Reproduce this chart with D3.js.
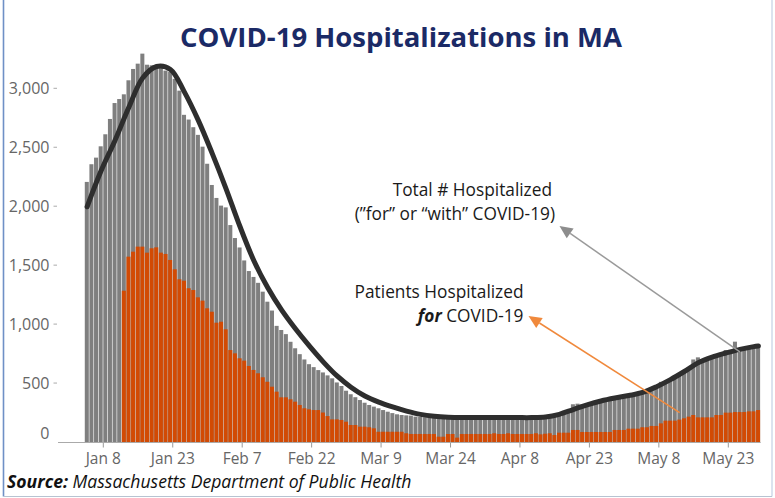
<!DOCTYPE html>
<html><head><meta charset="utf-8">
<script src="https://cdn.jsdelivr.net/npm/d3@7"></script>
<style>
html,body{margin:0;padding:0;background:#fff;}
svg{display:block;}
text{font-family:"Open Sans",sans-serif;}
</style></head><body>
<svg id="chart" width="775" height="498"></svg>
<script>
// ---------------- DATA ----------------
const titleText = "COVID-19 Hospitalizations in MA";
const sourceBold = "Source:";
const sourceRest = " Massachusetts Department of Public Health";
const totalLabel = ["Total # Hospitalized", "(\u201Dfor\u201D or \u201Cwith\u201D COVID-19)"];
const forLabelTop = "Patients Hospitalized";
const forLabelEm = "for";
const forLabelRest = " COVID-19";

const totalStart = "2022-01-04";
const totalHospitalized = [2206,2356,2412,2508,2610,2740,2875,2909,2949,3068,3164,3209,3294,
 3200,3195,3190,3175,3150,3140,3080,2980,
 2775,2735,2670,2605,2505,2360,2180,2070,2005,1990,1840,1730,
 1650,1540,1450,1400,1350,1275,1190,1115,985,950,915,850,795,745,700,660,635,610,590,565,
 540,505,475,435,405,380,356,333,314,300,286,271,257,245,235,229,226,224,
 215,212,210,208,205,200,203,206,200,198,205,208,204,200,206,210,205,200,206,210,208,204,208,212,210,205,212,218,222,225,
 230,240,250,270,320,325,318,322,330,338,352,360,355,365,372,378,385,392,405,435,432,440,470,510,505,
 530,535,570,610,620,700,718,700,712,725,730,745,780,782,851,790,795,800,805,810];

const forStart = "2022-01-12";
const forCovid = [1283,1572,1614,1657,1657,1606,1643,1651,1606,1595,1544,1465,1380,1368,1304,1289,1227,1199,1134,1105,
 1012,1020,956,780,752,710,690,645,611,583,549,511,469,427,379,379,362,342,314,286,277,271,271,250,220,
 192,192,187,172,144,144,130,130,125,116,87,87,87,87,87,87,74,
 68,68,68,68,68,68,45,45,68,68,37,68,68,68,68,68,68,68,74,68,68,74,68,68,68,68,68,74,
 65,70,74,59,79,79,79,102,102,85,85,85,85,85,85,85,102,102,102,113,113,113,125,125,136,136,158,
 181,181,181,190,201,215,229,209,209,209,209,229,229,249,249,254,254,254,260,260,271];

const trendDates = ["2022-01-04","2022-01-07","2022-01-10","2022-01-13","2022-01-16","2022-01-19","2022-01-22","2022-01-25",
 "2022-01-28","2022-01-31","2022-02-03","2022-02-06","2022-02-09","2022-02-12","2022-02-15","2022-02-18","2022-02-21",
 "2022-02-24","2022-02-27","2022-03-02","2022-03-05","2022-03-08","2022-03-11","2022-03-14","2022-03-17","2022-03-20",
 "2022-03-23","2022-03-26","2022-03-29","2022-04-01","2022-04-04","2022-04-07","2022-04-10","2022-04-13","2022-04-16",
 "2022-04-19","2022-04-22","2022-04-25","2022-04-28","2022-05-01","2022-05-04","2022-05-07","2022-05-10","2022-05-13",
 "2022-05-16","2022-05-19","2022-05-22","2022-05-25","2022-05-28","2022-05-29"];
const trendValues = [1995,2298,2556,2837,3088,3185,3160,2970,2730,2450,2150,1830,1540,1310,1120,960,815,
 680,560,465,390,338,297,262,234,218,210,207,207,207,207,207,207,212,235,
 275,315,348,373,394,420,469,529,598,672,720,755,786,809,815];

const xTickDates = ["2022-01-08","2022-01-23","2022-02-07","2022-02-22","2022-03-09","2022-03-24","2022-04-08","2022-04-23","2022-05-08","2022-05-23"];
const xTickLabels = ["Jan 8","Jan 23","Feb 7","Feb 22","Mar 9","Mar 24","Apr 8","Apr 23","May 8","May 23"];
const yTicks = [0,500,1000,1500,2000,2500,3000];
const yTickLabels = ["0","500","1,000","1,500","2,000","2,500","3,000"];

// ---------------- CHART ----------------
const parse = d3.utcParse("%Y-%m-%d");
const svg = d3.select("#chart");

const x = d3.scaleUtc()
  .domain([parse("2022-01-08"), parse("2022-05-23")])
  .range([103.3, 728.3]);
const y = d3.scaleLinear().domain([0, 3000]).range([442, 88.3]);

const day = d => d3.utcDay.offset(d, 1);
const totalData = totalHospitalized.map((v, i) => ({d: d3.utcDay.offset(parse(totalStart), i), v}));
const forData = forCovid.map((v, i) => ({d: d3.utcDay.offset(parse(forStart), i), v}));
const trendData = trendDates.map((s, i) => ({d: parse(s), v: trendValues[i]}));

// frame
svg.append("line").attr("x1", 3.5).attr("x2", 3.5).attr("y1", 0).attr("y2", 496.5)
  .attr("stroke", "#6f90c6").attr("stroke-width", 1.6);
svg.append("line").attr("x1", 772).attr("x2", 772).attr("y1", 0).attr("y2", 496.5)
  .attr("stroke", "#c3d1e4").attr("stroke-width", 1.2);
svg.append("line").attr("x1", 3.5).attr("x2", 772).attr("y1", 496.5).attr("y2", 496.5)
  .attr("stroke", "#b7c3d1").attr("stroke-width", 1.2);

// title
svg.append("text").attr("x", 401).attr("y", 47).attr("text-anchor", "middle")
  .attr("font-size", 27.5).attr("font-weight", 700).attr("fill", "#1b2a66").text(titleText);

// y axis labels
const yAxis = svg.append("g");
yTicks.forEach((t, i) => {
  const yy = t === 0 ? y(t) - 9 : y(t);
  yAxis.append("text").attr("x", 49.5).attr("y", yy).attr("dy", "0.36em")
    .attr("text-anchor", "end").attr("font-size", 16).attr("fill", "#666").text(yTickLabels[i]);
  if (t !== 0) yAxis.append("line").attr("x1", 53.5).attr("x2", 57).attr("y1", y(t)).attr("y2", y(t))
    .attr("stroke", "#aaa").attr("stroke-width", 1);
});

// x axis baseline + ticks
svg.append("line").attr("x1", 58).attr("x2", x(day(totalData[totalData.length-1].d)))
  .attr("y1", y(0) + 0.5).attr("y2", y(0) + 0.5).attr("stroke", "#aaa").attr("stroke-width", 1);
const xAxis = svg.append("g");
xTickDates.forEach((s, i) => {
  const xx = x(parse(s));
  xAxis.append("line").attr("x1", xx).attr("x2", xx).attr("y1", 443).attr("y2", 447.5)
    .attr("stroke", "#999").attr("stroke-width", 1);
  xAxis.append("text").attr("x", xx).attr("y", 463.5).attr("text-anchor", "middle")
    .attr("font-size", 15.5).attr("fill", "#666").text(xTickLabels[i]);
});

// bars
const gap = 0.6;
svg.append("g").selectAll("rect").data(totalData).join("rect")
  .attr("x", d => x(d.d)).attr("width", d => x(day(d.d)) - x(d.d) - gap)
  .attr("y", d => y(d.v)).attr("height", d => y(0) - y(d.v))
  .attr("fill", "#7f7f7f");
svg.append("g").selectAll("rect").data(forData).join("rect")
  .attr("x", d => x(d.d)).attr("width", d => x(day(d.d)) - x(d.d) - gap)
  .attr("y", d => y(d.v)).attr("height", d => y(0) - y(d.v))
  .attr("fill", "#d24a04");

// trend line
const half = (x(parse("2022-01-09")) - x(parse("2022-01-08"))) / 2;
svg.append("path").datum(trendData)
  .attr("d", d3.line().x(d => x(d.d) + half).y(d => y(d.v)).curve(d3.curveCatmullRom.alpha(0.5)))
  .attr("fill", "none").attr("stroke", "#2e2e2e").attr("stroke-width", 5).attr("stroke-linecap", "round");

// arrows
function arrow(x1, y1, x2, y2, color, headColor) {
  const a = Math.atan2(y2 - y1, x2 - x1), L = 13, W = 6;
  const bx = x2 - L * Math.cos(a), by = y2 - L * Math.sin(a);
  svg.append("line").attr("x1", x1).attr("y1", y1).attr("x2", bx).attr("y2", by)
    .attr("stroke", color).attr("stroke-width", 1.5);
  const px = -Math.sin(a) * W, py = Math.cos(a) * W;
  svg.append("path").attr("d", `M${x2},${y2}L${bx + px},${by + py}L${bx - px},${by - py}Z`).attr("fill", headColor);
}
arrow(x(parse("2022-05-25")) + half, y(765), 559.5, 226, "#9a9a9a", "#8d8d8d");
arrow(x(parse("2022-05-12")) + half, y(250), 528.5, 316, "#f0893c", "#f0893c");

// annotation texts
const ann = svg.append("g").attr("font-size", 17.3).attr("fill", "#1a1a1a");
ann.append("text").attr("x", 552).attr("y", 196).attr("text-anchor", "end").text(totalLabel[0]);
ann.append("text").attr("x", 555).attr("y", 220).attr("text-anchor", "end").text(totalLabel[1]);
ann.append("text").attr("x", 523.5).attr("y", 298).attr("text-anchor", "end").text(forLabelTop);
const t2 = ann.append("text").attr("x", 523.5).attr("y", 322).attr("text-anchor", "end");
t2.append("tspan").attr("font-weight", 700).attr("font-style", "italic").text(forLabelEm);
t2.append("tspan").text(forLabelRest);

// source
const src = svg.append("text").attr("x", 7).attr("y", 487.5).attr("font-size", 17.6).attr("font-style", "italic").attr("fill", "#111");
src.append("tspan").attr("font-weight", 700).text(sourceBold);
src.append("tspan").text(sourceRest);
</script>
</body></html>
